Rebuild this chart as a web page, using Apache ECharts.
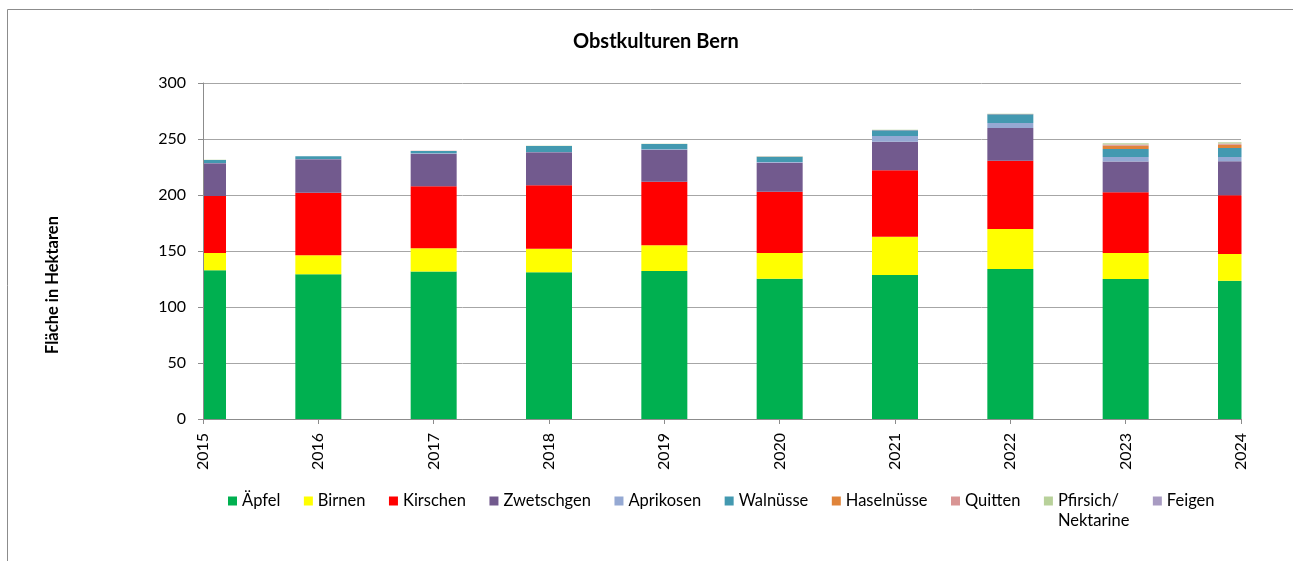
<!DOCTYPE html>
<html>
<head>
<meta charset="utf-8">
<script src="https://cdn.jsdelivr.net/npm/echarts@6/dist/echarts.min.js"></script>
<style>
  html, body { margin: 0; padding: 0; background: #fff; }
  #chart { width: 1293px; height: 561px; }
</style>
</head>
<body>
<div id="chart"></div>
<script>
// Jahre und Flächen (ha)
var years = ['2015', '2016', '2017', '2018', '2019', '2020', '2021', '2022', '2023', '2024'];
var aepfel     = [132.8, 129.2, 131.8, 131.0, 132.1, 125.3, 128.6, 133.9, 125.0, 123.5];
var birnen     = [15.4, 17.0, 20.6, 21.1, 23.0, 22.9, 34.2, 35.7, 23.2, 23.8];
var kirschen   = [50.9, 55.9, 55.4, 56.6, 56.8, 54.8, 59.2, 61.0, 54.2, 52.4];
var zwetschgen = [29.2, 29.8, 29.1, 29.4, 28.6, 25.9, 25.6, 29.2, 27.4, 30.4];
var aprikosen  = [0.3, 0.3, 0.3, 0.4, 0.4, 0.5, 5.1, 4.5, 4.1, 3.8];
var walnuesse  = [2.6, 2.3, 2.1, 5.2, 4.6, 4.8, 5.1, 7.7, 7.2, 8.1];
var haselnuesse = [0, 0, 0, 0, 0, 0, 0.1, 0.1, 2.9, 2.9];
var quitten    = [0.1, 0.1, 0.1, 0.1, 0.1, 0.1, 0.2, 0.2, 1.0, 1.0];
var pfirsich   = [0.1, 0.1, 0.1, 0.1, 0.1, 0.2, 0.2, 0.2, 1.1, 1.1];
var feigen     = [0, 0, 0, 0, 0, 0, 0, 0, 0.1, 0.1];

var seriesDefs = [
   {name: 'Äpfel', data: aepfel, color: '#00B050'},
   {name: 'Birnen', data: birnen, color: '#FFFF00'},
   {name: 'Kirschen', data: kirschen, color: '#FF0000'},
   {name: 'Zwetschgen', data: zwetschgen, color: '#725A8E'},
   {name: 'Aprikosen', data: aprikosen, color: '#95A9D3'},
   {name: 'Walnüsse', data: walnuesse, color: '#4399B0'},
   {name: 'Haselnüsse', data: haselnuesse, color: '#E0843A'},
   {name: 'Quitten', data: quitten, color: '#D99594'},
   {name: 'Pfirsich/\nNektarine', data: pfirsich, color: '#B8D19A'},
   {name: 'Feigen', data: feigen, color: '#A89BC2'}
];

var FONT = 'Lato, "Open Sans", sans-serif';
var GRID_L = 203, GRID_R = 1241, GRID_T = 83, GRID_B = 419;
var chart = echarts.init(document.getElementById('chart'));

var series = seriesDefs.map(function(s) {
   return {
      name: s.name,
      type: 'bar',
      stack: 'total',
      barWidth: 46,
      itemStyle: {color: s.color},
      data: s.data
   };
});

// y axis settings shared by the gridline axis and the label axis
function yAxisBase() {
   return {
      type: 'value',
      min: 0,
      max: 300,
      interval: 50,
      position: 'left'
   };
}

var yGrid = yAxisBase();
yGrid.axisLine = {show: false};
yGrid.axisTick = {show: false};
yGrid.axisLabel = {show: false};
yGrid.splitLine = {lineStyle: {color: '#a6a6a6', width: 1}};

var yLabels = yAxisBase();
yLabels.z = 10;
yLabels.name = 'Fläche in Hektaren';
yLabels.nameLocation = 'middle';
yLabels.nameGap = 142;
yLabels.nameRotate = 90;
yLabels.nameTextStyle = {fontFamily: FONT, fontSize: 16.5, fontWeight: 'bold', color: '#000', padding: [0, 68, 0, 0]};
yLabels.axisLine = {show: true, lineStyle: {color: '#8c8c8c'}};
yLabels.axisTick = {show: true, length: 5, lineStyle: {color: '#8c8c8c'}};
yLabels.splitLine = {show: false};
yLabels.axisLabel = {fontFamily: FONT, fontSize: 16, color: '#000', margin: 17};

var option = {
   animation: false,
   backgroundColor: '#fff',
   textStyle: {fontFamily: FONT},
   title: {
      text: 'Obstkulturen Bern',
      left: 568,
      top: 27,
      textStyle: {fontFamily: FONT, fontSize: 20, fontWeight: 'bold', color: '#000'}
   },
   graphic: [
      {
         type: 'rect',
         shape: {x: 7.5, y: 9.5, width: 1300, height: 600},
         style: {fill: 'none', stroke: '#8c8c8c', lineWidth: 1},
         silent: true
      },
      // white masks: Excel-style date axis cuts the first and last bar in half
      {
         type: 'rect', z: 5, silent: true,
         shape: {x: 120, y: GRID_T - 10, width: GRID_L - 120, height: GRID_B - GRID_T + 10.5},
         style: {fill: '#fff'}
      },
      {
         type: 'rect', z: 5, silent: true,
         shape: {x: GRID_R + 0.5, y: GRID_T - 10, width: 40, height: GRID_B - GRID_T + 10.5},
         style: {fill: '#fff'}
      }
   ],
   legend: {
      data: seriesDefs.map(function(s) { return s.name; }),
      left: 228,
      top: 471,
      padding: 0,
      width: 1060,
      itemWidth: 9,
      itemHeight: 9,
      itemGap: 23.5,
      icon: 'rect',
      formatter: function(name) {
         return name.indexOf('\n') >= 0 ? ' \n' + name : name;
      },
      textStyle: {fontFamily: FONT, fontSize: 16.5, color: '#000', lineHeight: 20}
   },
   grid: {left: GRID_L, right: 1293 - GRID_R, top: GRID_T, bottom: 561 - GRID_B, containLabel: false},
   xAxis: {
      type: 'category',
      data: years,
      boundaryGap: false,
      z: 10,
      splitLine: {show: false},
      axisLine: {lineStyle: {color: '#8c8c8c'}},
      axisTick: {show: true, length: 5, alignWithLabel: true, lineStyle: {color: '#8c8c8c'}},
      axisLabel: {
         rotate: 90,
         margin: 14,
         interval: 0,
         fontFamily: FONT,
         fontSize: 16,
         color: '#000'
      }
   },
   yAxis: [yGrid, yLabels],
   series: series
};

chart.setOption(option);
</script>
</body>
</html>
